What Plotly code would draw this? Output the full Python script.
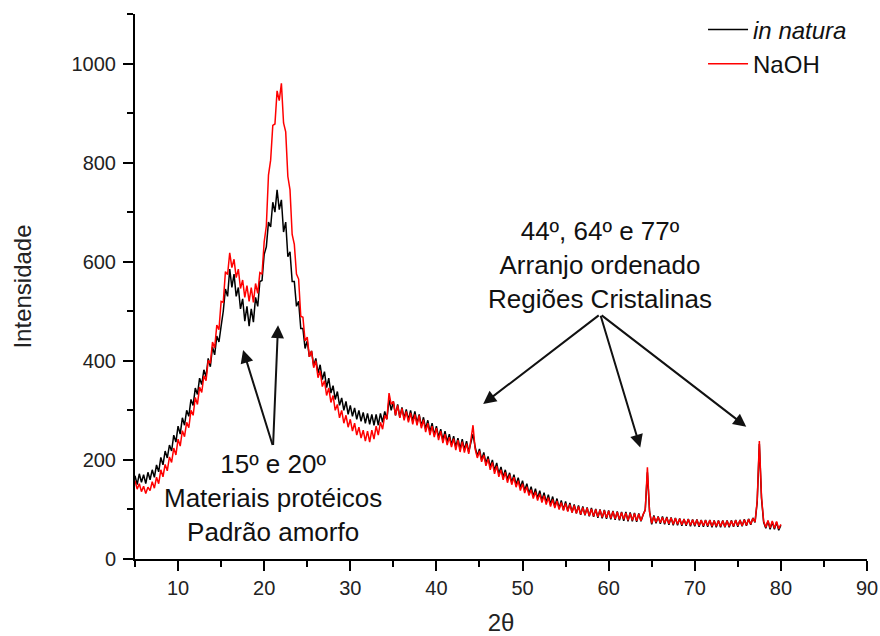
import plotly.graph_objects as go

# 2theta sampling grid (degrees): 5.00 to 80.00 in 0.25 steps
theta_start = 5.0
theta_step = 0.25

in_natura = [
    168, 150, 172, 155, 170, 152, 175, 160, 180, 165, 190, 176,
    205, 190, 218, 204, 230, 218, 250, 236, 268, 252, 285, 270,
    300, 288, 322, 310, 345, 332, 365, 352, 382, 368, 405, 388,
    428, 412, 450, 438, 470, 500, 545, 530, 585, 548, 575, 530,
    548, 505, 525, 480, 510, 470, 505, 478, 528, 510, 560, 562,
    615, 630, 680, 670, 720, 700, 745, 705, 725, 660, 680, 610,
    620, 560, 560, 510, 520, 465, 465, 425, 440, 408, 420, 390,
    405, 375, 392, 362, 378, 346, 365, 335, 350, 322, 338, 310,
    325, 300, 318, 292, 310, 288, 305, 282, 300, 278, 296, 274,
    294, 272, 292, 270, 292, 270, 294, 276, 298, 282, 322, 300,
    318, 290, 312, 286, 306, 284, 302, 280, 300, 278, 298, 274,
    292, 268, 286, 262, 280, 256, 274, 250, 268, 246, 262, 240,
    258, 236, 252, 230, 248, 226, 244, 222, 242, 220, 238, 216,
    235, 252, 226, 208, 222, 200, 215, 193, 207, 186, 200, 178,
    194, 172, 186, 165, 180, 160, 174, 154, 170, 150, 164, 144,
    158, 138, 152, 132, 146, 126, 142, 122, 138, 118, 134, 114,
    130, 110, 126, 106, 122, 102, 118, 99, 116, 97, 113, 94,
    110, 92, 108, 89, 106, 88, 104, 86, 103, 85, 101, 83,
    100, 82, 99, 81, 98, 80, 97, 79, 96, 78, 95, 77,
    95, 76, 94, 76, 93, 75, 92, 76, 89, 100, 175, 96,
    70, 88, 72, 86, 71, 86, 70, 85, 69, 84, 68, 83,
    68, 82, 67, 81, 67, 81, 66, 80, 66, 80, 65, 79,
    65, 79, 65, 79, 64, 78, 64, 78, 64, 78, 64, 78,
    64, 78, 65, 79, 65, 79, 66, 80, 67, 81, 69, 83,
    74, 115, 232, 122, 74, 62, 77, 60, 75, 60, 74, 58,
    68,
]

naoh = [
    158, 141, 152, 136, 147, 132, 145, 138, 156, 143, 165, 152,
    180, 166, 191, 178, 206, 195, 224, 210, 242, 228, 259, 247,
    276, 265, 300, 290, 326, 312, 347, 336, 370, 360, 401, 395,
    438, 426, 472, 463, 520, 518, 580, 574, 618, 588, 605, 568,
    585, 546, 563, 528, 552, 520, 548, 518, 556, 536, 578, 575,
    640, 672, 775, 805, 875, 878, 945, 925, 960, 880, 862, 772,
    745, 655, 635, 575, 565, 490, 488, 440, 448, 408, 420, 386,
    400, 366, 380, 348, 360, 330, 345, 316, 330, 300, 312, 285,
    300, 274, 290, 266, 282, 258, 274, 250, 266, 244, 260, 238,
    258, 236, 260, 242, 268, 250, 276, 262, 290, 282, 335, 312,
    318, 290, 310, 285, 304, 280, 298, 276, 295, 272, 292, 270,
    290, 264, 281, 256, 274, 250, 268, 246, 264, 240, 258, 234,
    252, 230, 246, 226, 243, 220, 240, 216, 237, 215, 233, 212,
    240, 270, 222, 204, 218, 196, 210, 188, 202, 180, 195, 172,
    188, 166, 180, 160, 175, 154, 170, 150, 165, 145, 158, 138,
    152, 133, 146, 128, 140, 122, 136, 118, 132, 114, 128, 110,
    124, 106, 120, 103, 117, 100, 114, 98, 112, 96, 110, 94,
    108, 92, 106, 90, 104, 89, 103, 87, 101, 86, 100, 85,
    99, 84, 98, 83, 97, 82, 96, 81, 95, 80, 94, 80,
    93, 78, 92, 78, 92, 77, 91, 77, 90, 98, 185, 95,
    72, 86, 74, 85, 73, 84, 72, 83, 71, 83, 70, 82,
    70, 81, 69, 80, 69, 80, 68, 79, 68, 79, 67, 78,
    67, 78, 67, 78, 66, 77, 66, 77, 66, 77, 65, 77,
    66, 77, 66, 78, 67, 78, 67, 79, 68, 80, 70, 82,
    75, 118, 238, 125, 76, 64, 78, 63, 77, 62, 76, 61,
    70,
]

two_theta = [round(theta_start + theta_step * i, 2) for i in range(len(naoh))]

series_names = ["<i>in natura</i>", "NaOH"]
series_colors = ["#000000", "#ff0000"]

x_ticks = [10, 20, 30, 40, 50, 60, 70, 80, 90]
y_ticks = [0, 200, 400, 600, 800, 1000]

FONT = "Arial, 'Liberation Sans', sans-serif"

fig = go.Figure()
for name, vals, col in zip(series_names, [in_natura, naoh], series_colors):
    fig.add_trace(go.Scatter(x=two_theta, y=vals, mode="lines", name=name,
                             line=dict(color=col, width=1.5)))

axis_common = dict(showgrid=False, zeroline=False, showline=True, linecolor="black",
                   linewidth=2, ticks="outside", ticklen=10, tickwidth=2, tickcolor="black",
                   automargin=False,
                   tickfont=dict(family=FONT, size=20, color="#222"))

fig.update_xaxes(range=[5, 90], tickvals=x_ticks, ticklabelstandoff=0,
                 minor=dict(dtick=5, tick0=0, ticks="outside", ticklen=6, tickwidth=2, tickcolor="black"),
                 title=dict(text="2θ", font=dict(family=FONT, size=24, color="#222"), standoff=24),
                 **axis_common)
fig.update_yaxes(range=[0, 1100], tickvals=y_ticks, ticklabelstandoff=3,
                 minor=dict(dtick=100, tick0=0, ticks="outside", ticklen=6, tickwidth=2, tickcolor="black"),
                 title=dict(text="Intensidade", font=dict(family=FONT, size=24, color="#222"), standoff=33),
                 **axis_common)

# Text annotations
fig.add_annotation(x=21.0, y=124, xref="x", yref="y", showarrow=False,
                   text="15º e 20º<br>Materiais protéicos<br>Padrão amorfo",
                   font=dict(family=FONT, size=26, color="#111"), align="center")
fig.add_annotation(x=59.0, y=594, xref="x", yref="y", showarrow=False,
                   text="44º, 64º e 77º<br>Arranjo ordenado<br>Regiões Cristalinas",
                   font=dict(family=FONT, size=26, color="#111"), align="center")

# Arrows (head position, tail position) in data units
arrows = [
    ((17.55, 422), (21.03, 227)),
    ((21.61, 472), (21.03, 227)),
    ((45.43, 313), (59.02, 494)),
    ((63.67, 225), (59.02, 494)),
    ((75.98, 267), (59.02, 494)),
]
for (hx, hy), (tx, ty) in arrows:
    fig.add_annotation(x=hx, y=hy, ax=tx, ay=ty, xref="x", yref="y", axref="x", ayref="y",
                       text="", showarrow=True, arrowhead=2, arrowsize=1.3, arrowwidth=2,
                       arrowcolor="#111")

fig.update_layout(
    width=880, height=636,
    margin=dict(l=135, r=13, t=14, b=77, autoexpand=False),
    paper_bgcolor="white", plot_bgcolor="white",
    font=dict(family=FONT),
    legend=dict(x=0.776, y=1.012, xanchor="left", yanchor="top",
                bgcolor="rgba(0,0,0,0)", font=dict(family=FONT, size=24, color="#111"),
                itemwidth=40, tracegroupgap=0),
)

fig.write_html("out.html")
